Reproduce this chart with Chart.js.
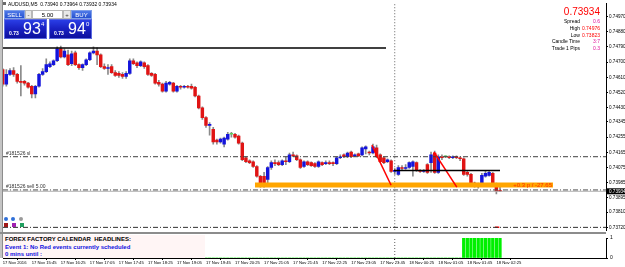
<!DOCTYPE html>
<html>
<head>
<meta charset="utf-8">
<script src="https://cdn.jsdelivr.net/npm/chart.js@4.4.0/dist/chart.umd.min.js"></script>
<style>
html, body { margin: 0; padding: 0; background: #fff; }
#wrap { position: relative; width: 625px; height: 267px; overflow: hidden; font-family: "Liberation Sans", Arial, sans-serif; }
canvas { position: absolute; left: 0; }
#main { top: 0; }
#ind { top: 233px; }
.abs { position: absolute; white-space: nowrap; }
#title { left: 8px; top: 1px; font-size: 5px; color: #000; }
.btn { height: 9px; line-height: 9px; font-size: 6px; color: #fff; text-align: center; background: linear-gradient(#4f7ae8, #2550d0); border: 1px solid #7e9ee8; box-sizing: border-box; }
.pm { height: 9px; line-height: 8px; font-size: 6px; color: #333; text-align: center; background: #e8e8e8; border: 1px solid #b8b8b8; box-sizing: border-box; }
.lot { height: 9px; line-height: 8px; font-size: 6px; color: #000; text-align: center; background: #fff; border: 1px solid #b8b8b8; box-sizing: border-box; }
.pbox { top: 19px; width: 43px; height: 20px; background: linear-gradient(#2a3ee6 0%, #1a22c4 45%, #0d0f9e 100%); border: 1px solid #5a6ae0; box-sizing: border-box; color: #fff; }
.pbox .s { position: absolute; left: 4px; top: 10px; font-size: 5px; font-weight: bold; }
.pbox .b { position: absolute; left: 18px; top: 0px; font-size: 16px; line-height: 18px; }
.pbox .u { position: absolute; left: 36px; top: 1px; font-size: 6px; }
.info { font-size: 5px; line-height: 6.8px; }
#ff { left: 3px; top: 235px; width: 202px; height: 23px; background: #fff5f5; font-size: 6px; font-weight: bold; line-height: 7.6px; padding: 1px 0 0 2px; box-sizing: border-box; }
.dot { position: absolute; width: 4px; height: 4px; border-radius: 50%; }
.sq { position: absolute; width: 4px; height: 4px; }
</style>
</head>
<body>
<div id="wrap">
<canvas id="main" width="625" height="234"></canvas>
<canvas id="ind" width="625" height="34"></canvas>

<div class="abs" style="left:0;top:0;width:2px;height:258px;background:#c4c4c4"></div>
<div class="abs" style="left:2px;top:0;width:1px;height:258px;background:#8c8c8c"></div>
<div class="abs" style="left:0;top:232px;width:606px;height:2px;background:#8c8c8c"></div>

<div class="abs" style="left:3px;top:2px;width:3px;height:3px;background:#6a6a6a"></div>
<div id="title" class="abs">AUDUSD,M5 &nbsp;0.73940 0.73964 0.73932 0.73934</div>

<div class="abs btn" style="left:4px;top:10px;width:21px;">SELL</div>
<div class="abs pm" style="left:25px;top:10px;width:7px;">-</div>
<div class="abs lot" style="left:32px;top:10px;width:31px;">5.00</div>
<div class="abs pm" style="left:63px;top:10px;width:8px;">+</div>
<div class="abs btn" style="left:71px;top:10px;width:21px;">BUY</div>
<div class="abs pbox" style="left:4px;"><span class="s">0.73</span><span class="b">93</span><span class="u">4</span></div>
<div class="abs pbox" style="left:49px;"><span class="s">0.73</span><span class="b">94</span><span class="u">0</span></div>

<div class="abs" style="right:25px;top:6px;font-size:10px;color:#ff0000;">0.73934</div>
<div class="abs info" style="right:45px;top:18px;text-align:right;color:#000;">Spread<br>High<br>Low<br>Candle Time<br>Trade 1 Pips</div>
<div class="abs info" style="right:25px;top:18px;text-align:right;">
<span style="color:#e0109a">0.6</span><br><span style="color:#ff0000">0.74976</span><br><span style="color:#ff0000">0.73823</span><br><span style="color:#e0109a">3:7</span><br><span style="color:#e0109a">0.3</span></div>

<div class="dot" style="left:4px;top:217px;background:#2f6fd8;"></div>
<div class="dot" style="left:11px;top:217px;background:#2f6fd8;"></div>
<div class="dot" style="left:19px;top:217px;background:#9a9a9a;"></div>
<div class="sq" style="left:4px;top:223px;background:#a01818;"></div>
<div class="sq" style="left:12px;top:223px;background:#a020b0;"></div>
<div class="sq" style="left:20px;top:223px;background:#20a060;"></div>

<div id="ff" class="abs">
<div style="color:#000">FOREX FACTORY CALENDAR&nbsp; HEADLINES:</div>
<div style="color:#1010e0">Event 1: No Red events currently scheduled</div>
<div style="color:#1010e0">0 mins until :</div>
</div>
</div>

<script>
// M5 bars, 17 Nov 15:05 -> 18 Nov 02:30
const openP = [0.74656,0.74569,0.74627,0.74650,0.74627,0.74586,0.74586,0.74575,0.74557,0.74511,
  0.74557,0.74627,0.74644,0.74673,0.74685,0.74708,0.74778,0.74731,0.74743,0.74690,
  0.74755,0.74685,0.74667,0.74685,0.74714,0.74755,0.74766,0.74743,0.74673,0.74662,
  0.74673,0.74638,0.74633,0.74627,0.74615,0.74633,0.74708,0.74696,0.74679,0.74696,
  0.74679,0.74633,0.74627,0.74580,0.74569,0.74528,0.74569,0.74575,0.74528,0.74557,
  0.74551,0.74557,0.74557,0.74551,0.74499,0.74429,0.74371,0.74325,0.74302,0.74237,
  0.74226,0.74214,0.74243,0.74272,0.74272,0.74261,0.74220,0.74133,0.74115,0.74109,
  0.74081,0.74023,0.74023,0.74005,0.74075,0.74104,0.74104,0.74092,0.74115,0.74109,
  0.74150,0.74144,0.74121,0.74081,0.74109,0.74104,0.74098,0.74081,0.74104,0.74098,
  0.74104,0.74104,0.74098,0.74133,0.74150,0.74139,0.74167,0.74144,0.74156,0.74150,
  0.74185,0.74167,0.74161,0.74191,0.74150,0.74133,0.74109,0.74115,0.74052,0.74034,
  0.74075,0.74069,0.74075,0.74081,0.74104,0.74058,0.74052,0.74092,0.74104,0.74161,
  0.74046,0.74139,0.74139,0.74139,0.74133,0.74139,0.74133,0.74127,0.74046,0.74034,
  0.73982,0.73976,0.73970,0.74023,0.74028,0.74040,0.73976,0.73940];
const highP = [0.74662,0.74656,0.74662,0.74668,0.74633,0.74680,0.74592,0.74580,0.74563,0.74563,
  0.74633,0.74662,0.74720,0.74702,0.74714,0.74790,0.74795,0.74778,0.74772,0.74766,
  0.74766,0.74690,0.74690,0.74720,0.74761,0.74790,0.74784,0.74749,0.74690,0.74685,
  0.74685,0.74650,0.74644,0.74638,0.74644,0.74720,0.74720,0.74702,0.74708,0.74702,
  0.74685,0.74638,0.74633,0.74592,0.74575,0.74586,0.74586,0.74580,0.74563,0.74563,
  0.74563,0.74563,0.74569,0.74557,0.74505,0.74435,0.74377,0.74342,0.74313,0.74243,
  0.74249,0.74255,0.74284,0.74284,0.74278,0.74267,0.74226,0.74139,0.74121,0.74115,
  0.74086,0.74028,0.74046,0.74081,0.74115,0.74121,0.74115,0.74121,0.74139,0.74161,
  0.74167,0.74150,0.74127,0.74115,0.74115,0.74109,0.74104,0.74115,0.74109,0.74115,
  0.74115,0.74109,0.74139,0.74150,0.74156,0.74167,0.74173,0.74156,0.74161,0.74197,
  0.74203,0.74173,0.74214,0.74208,0.74156,0.74139,0.74127,0.74121,0.74069,0.74086,
  0.74086,0.74092,0.74109,0.74115,0.74109,0.74063,0.74063,0.74098,0.74167,0.74173,
  0.74150,0.74150,0.74144,0.74144,0.74144,0.74144,0.74139,0.74133,0.74052,0.74040,
  0.73988,0.73982,0.74040,0.74052,0.74052,0.74046,0.73982,0.73964];
const lowP = [0.74557,0.74557,0.74621,0.74615,0.74575,0.74500,0.74563,0.74545,0.74487,0.74487,
  0.74551,0.74621,0.74638,0.74667,0.74679,0.74702,0.74725,0.74725,0.74679,0.74679,
  0.74679,0.74656,0.74650,0.74679,0.74708,0.74749,0.74685,0.74667,0.74656,0.74627,
  0.74633,0.74615,0.74609,0.74604,0.74604,0.74627,0.74685,0.74667,0.74673,0.74662,
  0.74621,0.74615,0.74569,0.74557,0.74522,0.74522,0.74563,0.74522,0.74522,0.74540,
  0.74545,0.74545,0.74540,0.74493,0.74423,0.74360,0.74313,0.74267,0.74214,0.74214,
  0.74220,0.74197,0.74237,0.74255,0.74249,0.74214,0.74115,0.74104,0.74098,0.74075,
  0.74017,0.73959,0.73959,0.73965,0.74063,0.74086,0.74086,0.74086,0.74092,0.74104,
  0.74139,0.74115,0.74069,0.74075,0.74086,0.74081,0.74075,0.74075,0.74086,0.74092,
  0.74092,0.74086,0.74092,0.74127,0.74133,0.74133,0.74133,0.74139,0.74139,0.74144,
  0.74156,0.74150,0.74156,0.74133,0.74104,0.74098,0.74104,0.74046,0.74034,0.74028,
  0.74058,0.74063,0.74069,0.74023,0.74052,0.74046,0.74046,0.74040,0.74046,0.74040,
  0.74040,0.74121,0.74133,0.74127,0.74127,0.74127,0.74115,0.74028,0.74023,0.73970,
  0.73959,0.73953,0.73965,0.74017,0.74023,0.73970,0.73918,0.73932];
const closeP = [0.74569,0.74627,0.74650,0.74627,0.74586,0.74580,0.74575,0.74551,0.74511,0.74557,
  0.74627,0.74644,0.74685,0.74690,0.74708,0.74778,0.74731,0.74766,0.74685,0.74749,
  0.74685,0.74667,0.74685,0.74714,0.74755,0.74766,0.74743,0.74673,0.74662,0.74667,
  0.74638,0.74621,0.74621,0.74615,0.74633,0.74708,0.74690,0.74679,0.74702,0.74673,
  0.74627,0.74621,0.74575,0.74569,0.74528,0.74575,0.74580,0.74528,0.74557,0.74551,
  0.74557,0.74551,0.74545,0.74499,0.74429,0.74371,0.74325,0.74331,0.74226,0.74226,
  0.74243,0.74249,0.74272,0.74272,0.74255,0.74220,0.74121,0.74109,0.74104,0.74081,
  0.74023,0.73965,0.73965,0.74075,0.74104,0.74098,0.74092,0.74115,0.74109,0.74150,
  0.74144,0.74121,0.74075,0.74109,0.74092,0.74086,0.74081,0.74109,0.74092,0.74104,
  0.74098,0.74098,0.74133,0.74139,0.74139,0.74161,0.74139,0.74150,0.74144,0.74191,
  0.74197,0.74161,0.74197,0.74139,0.74109,0.74104,0.74121,0.74052,0.74058,0.74075,
  0.74069,0.74075,0.74104,0.74109,0.74058,0.74052,0.74058,0.74046,0.74150,0.74046,
  0.74139,0.74133,0.74139,0.74133,0.74139,0.74133,0.74127,0.74034,0.74034,0.73976,
  0.73965,0.73965,0.74028,0.74040,0.74046,0.73976,0.73935,0.73934];

// indicator window (0 / 1 per bar)
const signal = [0,0,0,0,0,0,0,0,0,0, 0,0,0,0,0,0,0,0,0,0, 0,0,0,0,0,0,0,0,0,0,
  0,0,0,0,0,0,0,0,0,0, 0,0,0,0,0,0,0,0,0,0, 0,0,0,0,0,0,0,0,0,0,
  0,0,0,0,0,0,0,0,0,0, 0,0,0,0,0,0,0,0,0,0, 0,0,0,0,0,0,0,0,0,0,
  0,0,0,0,0,0,0,0,0,0, 0,0,0,0,0,0,0,0,0,0, 0,0,0,0,0,0,0,0,0,0,
  0,0,0,0,0,0,0,1,1,1, 1,1,1,1,1,1,1,1];

const timeLabels = ['17 Nov 2016','17 Nov 15:45','17 Nov 16:25','17 Nov 17:05','17 Nov 17:45','17 Nov 18:25',
  '17 Nov 19:05','17 Nov 19:45','17 Nov 20:25','17 Nov 21:05','17 Nov 21:45','17 Nov 22:25',
  '17 Nov 23:05','17 Nov 23:45','18 Nov 00:25','18 Nov 01:05','18 Nov 01:45','18 Nov 02:25'];
const barsPerLabel = 8;
const priceTicks = [0.74970,0.74880,0.74790,0.74700,0.74610,0.74520,0.74430,0.74345,0.74255,
  0.74165,0.74075,0.73985,0.73895,0.73810,0.73720];

// objects on the chart (bar index, price)
const resistance = [[0, 0.74784], [105.6, 0.74784]];
const midLine = [[107.8, 0.74057], [137, 0.74057]];
const trend1 = [[101.7, 0.74208], [107, 0.73970]];
const trend2 = [[118.8, 0.74167], [125.1, 0.73959]];
const zone = [[69.5, 0.73971], [151.6, 0.73971]];
const slPrice = 0.74139;
const orderPrice = 0.73942;
const bidPrice = 0.73934;
const tpPrice = 0.73720;
const daySep = 108;
const tradeText = '+0.3 p / -27.65';

const xMin = 0.08, xMax = 166.2;
const yMin = 0.73703, yMax = 0.75046;

const axisFont = '"Liberation Sans", Arial, sans-serif';
Chart.defaults.font.family = '"Liberation Sans", Arial, sans-serif';
Chart.defaults.color = '#000';

const pts = arr => arr.map(p => ({ x: p[0], y: p[1] }));
const hLine = (price) => [{ x: xMin, y: price }, { x: xMax, y: price }];
const lineSet = (data, color, width, dash) => ({
    type: 'line', data, borderColor: color, borderWidth: width, borderDash: dash || [],
    pointRadius: 0, tension: 0, fill: false, order: 0, borderCapStyle: 'butt'
});

const bodyColors = openP.map((o, i) => closeP[i] > o ? '#1414dc' : (closeP[i] < o ? '#e01414' : '#5cd05c'));

const mainLabels = {
    id: 'mainLabels',
    afterDatasetsDraw(chart) {
        const { ctx, chartArea, scales: { x, y } } = chart;
        ctx.save();
        ctx.font = '5px "Liberation Sans", Arial';
        ctx.fillStyle = '#303030';
        ctx.textBaseline = 'bottom';
        ctx.fillText('#181526 sl', chartArea.left + 3, y.getPixelForValue(slPrice) - 1);
        ctx.fillText('#181526 sell 5.00', chartArea.left + 3, y.getPixelForValue(orderPrice) - 1);
        // trade result at end of the zone
        ctx.font = '6px "Liberation Sans", Arial';
        ctx.fillStyle = '#ff2a00';
        ctx.textAlign = 'right';
        ctx.textBaseline = 'middle';
        ctx.fillText(tradeText, x.getPixelForValue(zone[1][0]) - 1, y.getPixelForValue(zone[1][1]) + 0.5);
        // bid label on the price axis
        const by = y.getPixelForValue(bidPrice);
        ctx.fillStyle = '#000';
        ctx.fillRect(chartArea.right, by - 3, 19, 6);
        ctx.fillStyle = '#fff';
        ctx.font = '4.6px ' + axisFont;
        ctx.textAlign = 'left';
        ctx.fillText(bidPrice.toFixed(5), chartArea.right + 3, by + 0.5);
        ctx.restore();
    }
};

new Chart(document.getElementById('main'), {
    type: 'bar',
    data: {
        datasets: [
            lineSet(pts(resistance), '#000', 1.5),
            lineSet(pts(midLine), '#000', 1.5),
            lineSet(pts(trend1), '#ff0000', 1.5),
            lineSet(pts(trend2), '#ff0000', 1.5),
            lineSet(pts(zone), '#ffa500', 5),
            lineSet(hLine(slPrice), '#404040', 1, [5, 2, 1, 2]),
            lineSet(hLine(orderPrice), '#505050', 1, [5, 2, 1, 2]),
            lineSet(hLine(bidPrice), '#b0b0b0', 1),
            lineSet(hLine(tpPrice), '#303030', 1, [5, 2, 1, 2]),
            lineSet([{ x: 135.6, y: tpPrice }, { x: 136.8, y: tpPrice }], '#ff0000', 1.5),
            lineSet([{ x: daySep, y: yMin }, { x: daySep, y: yMax }], '#606060', 1, [1, 2]),
            {
                label: 'body', data: openP.map((o, i) => ({ x: i, y: [o, closeP[i]] })),
                backgroundColor: bodyColors, barThickness: 2.8, minBarLength: 1, grouped: false, order: 1
            },
            {
                label: 'wick', data: highP.map((h, i) => ({ x: i, y: [lowP[i], h] })),
                backgroundColor: '#8a8a8a', barThickness: 1, minBarLength: 1, grouped: false, order: 2
            }
        ]
    },
    options: {
        responsive: false,
        animation: false,
        layout: { padding: { left: 3, top: 1, bottom: 2, right: 0 } },
        plugins: { legend: { display: false }, tooltip: { enabled: false } },
        scales: {
            x: { type: 'linear', min: xMin, max: xMax, offset: false, display: false },
            y: {
                position: 'right', min: yMin, max: yMax,
                afterBuildTicks: s => { s.ticks = priceTicks.map(v => ({ value: v })); },
                afterFit: s => { s.width = 19; },
                ticks: { font: { size: 4.6, family: axisFont }, padding: 1, callback: v => v.toFixed(5) },
                grid: { drawOnChartArea: false, tickLength: 2, color: '#000' },
                border: { color: '#000' }
            }
        }
    },
    plugins: [mainLabels]
});

new Chart(document.getElementById('ind'), {
    type: 'bar',
    data: {
        datasets: [
            lineSet([{ x: daySep, y: 0 }, { x: daySep, y: 1 }], '#606060', 1, [1, 2]),
            {
                data: signal.map((v, i) => ({ x: i, y: v })),
                backgroundColor: '#00f000', barThickness: 2.6, grouped: false, order: 1
            }
        ]
    },
    options: {
        responsive: false,
        animation: false,
        layout: { padding: { left: 3, top: 3, bottom: 0, right: 0 } },
        plugins: { legend: { display: false }, tooltip: { enabled: false } },
        scales: {
            x: {
                type: 'linear', min: xMin, max: xMax, offset: false,
                afterBuildTicks: s => { s.ticks = timeLabels.map((t, k) => ({ value: k * barsPerLabel })); },
                afterFit: s => { s.height = 9; },
                ticks: {
                    font: { size: 4.2, family: axisFont }, padding: 0, align: 'start', maxRotation: 0, autoSkip: false,
                    callback: v => timeLabels[v / barsPerLabel]
                },
                grid: { drawOnChartArea: false, tickLength: 2, color: '#000' },
                border: { color: '#000' }
            },
            y: {
                position: 'right', min: 0, max: 1,
                afterBuildTicks: s => { s.ticks = [{ value: 0 }, { value: 1 }]; },
                afterFit: s => { s.width = 19; },
                ticks: { font: { size: 5, family: axisFont }, padding: 2 },
                grid: { drawOnChartArea: false, tickLength: 2, color: '#000' },
                border: { color: '#000' }
            }
        }
    }
});
</script>
</body>
</html>
